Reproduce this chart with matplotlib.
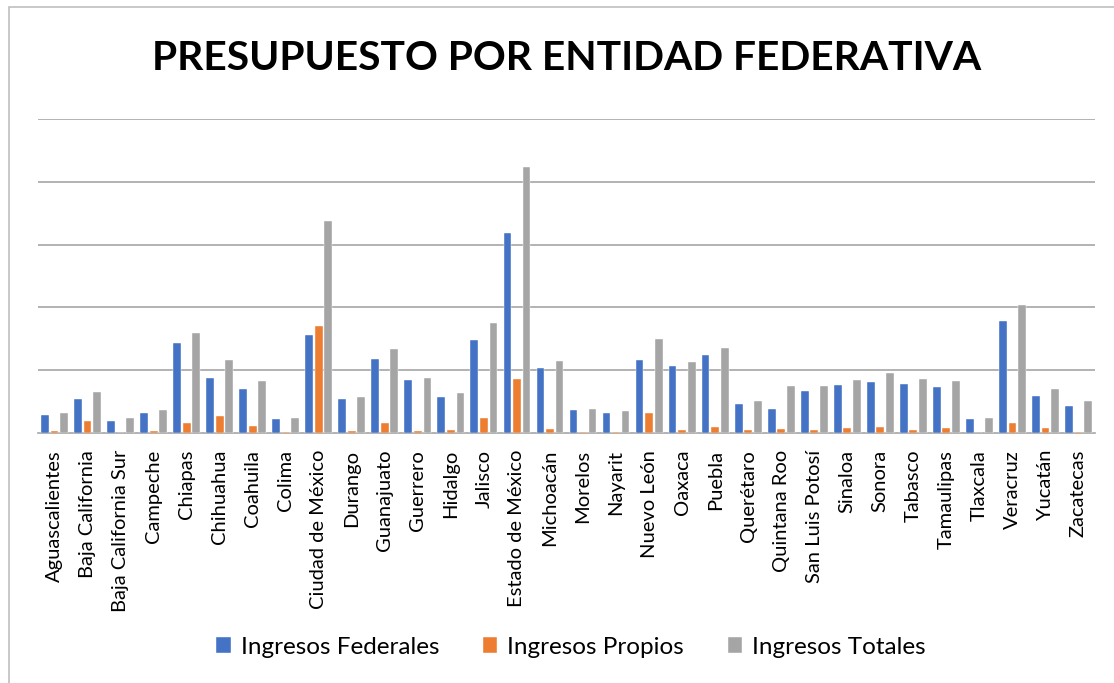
import matplotlib.pyplot as plt
import numpy as np
from matplotlib.patches import Rectangle

# Entidades federativas
entidades = ["Aguascalientes", "Baja California", "Baja California Sur", "Campeche",
             "Chiapas", "Chihuahua", "Coahuila", "Colima", "Ciudad de México",
             "Durango", "Guanajuato", "Guerrero", "Hidalgo", "Jalisco",
             "Estado de México", "Michoacán", "Morelos", "Nayarit", "Nuevo León",
             "Oaxaca", "Puebla", "Querétaro", "Quintana Roo", "San Luis Potosí",
             "Sinaloa", "Sonora", "Tabasco", "Tamaulipas", "Tlaxcala", "Veracruz",
             "Yucatán", "Zacatecas"]

# Valores (unidades de la cuadricula)
ingresos_federales = [0.29, 0.54, 0.20, 0.32, 1.43, 0.88, 0.71, 0.23, 1.56,
                      0.55, 1.18, 0.84, 0.58, 1.49, 3.18, 1.04, 0.37, 0.32,
                      1.16, 1.07, 1.24, 0.46, 0.38, 0.67, 0.76, 0.82, 0.79,
                      0.74, 0.23, 1.79, 0.60, 0.43]
ingresos_propios = [0.04, 0.20, 0.01, 0.04, 0.16, 0.27, 0.11, 0.02, 1.71,
                    0.03, 0.16, 0.03, 0.05, 0.25, 0.87, 0.07, 0.02, 0.02,
                    0.33, 0.06, 0.10, 0.06, 0.07, 0.05, 0.08, 0.10, 0.05,
                    0.08, 0.01, 0.16, 0.09, 0.02]
ingresos_totales = [0.33, 0.65, 0.25, 0.37, 1.60, 1.16, 0.83, 0.24, 3.38,
                    0.58, 1.34, 0.88, 0.64, 1.75, 4.23, 1.15, 0.39, 0.35,
                    1.50, 1.13, 1.35, 0.52, 0.75, 0.75, 0.85, 0.96, 0.86,
                    0.83, 0.24, 2.04, 0.70, 0.51]

series = ["Ingresos Federales", "Ingresos Propios", "Ingresos Totales"]
colores = ["#4472C4", "#ED7D31", "#A5A5A5"]

plt.rcParams['font.family'] = ['Lato', 'DejaVu Sans']

fig = plt.figure(figsize=(11.14, 6.83), dpi=100)
ax = fig.add_axes([38 / 1114, 1 - 433.3 / 683, (1095 - 38) / 1114, (433.3 - 118.7) / 683])

# Borde del grafico
fig.patches.append(Rectangle((9 / 1114, -0.05), 1.2, 1 - 7 / 683 + 0.05,
                             transform=fig.transFigure, fill=False,
                             edgecolor="#BFBFBF", linewidth=1.2))

x = np.arange(len(entidades))
paso = 0.289
ancho = 0.236
for i, (valores, cor, nome) in enumerate(zip([ingresos_federales, ingresos_propios, ingresos_totales], colores, series)):
    ax.bar(x + (i - 1) * paso, valores, width=ancho, color=cor, label=nome,
           edgecolor="white", linewidth=0.3, zorder=3)

ax.set_xlim(-0.5, len(entidades) - 0.5)
ax.set_ylim(0, 5)
ax.set_yticks(range(1, 6))
ax.yaxis.grid(True, color="#A6A6A6", linewidth=1.2, zorder=0)
ax.tick_params(axis='y', left=False, labelleft=False)
ax.tick_params(axis='x', length=0, pad=12)
ax.set_xticks(x)
ax.set_xticklabels(entidades, rotation=90, fontsize=14.5, va='top', ha='center')
for lado in ['left', 'right', 'top']:
    ax.spines[lado].set_visible(False)
ax.spines['bottom'].set_color("#A6A6A6")
ax.spines['bottom'].set_linewidth(1.2)

fig.text(567 / 1114, 1 - 58 / 683, "PRESUPUESTO POR ENTIDAD FEDERATIVA",
         fontsize=29.3, fontweight='bold', ha='center', va='center')

fig.legend(loc='center', bbox_to_anchor=(571 / 1114, 1 - 647 / 683), ncol=3,
           frameon=False, fontsize=17.5, handlelength=0.6, handleheight=0.6,
           handletextpad=0.4, columnspacing=1.8)

fig.savefig("out.png", dpi=100)
